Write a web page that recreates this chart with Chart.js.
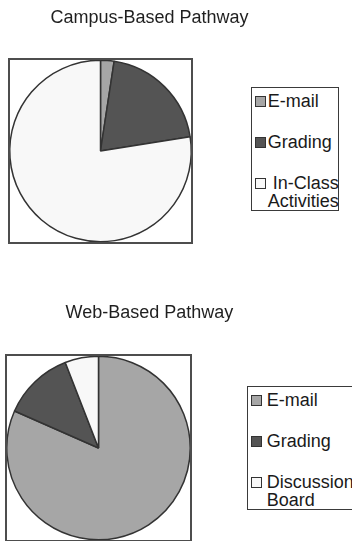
<!DOCTYPE html>
<html>
<head>
<meta charset="utf-8">
<script src="https://cdn.jsdelivr.net/npm/chart.js@4"></script>
<style>
  body {
    margin: 0;
    background: #fff;
    width: 352px;
    height: 541px;
    position: relative;
    overflow: hidden;
    font-family: 'Liberation Sans', Arial, sans-serif;
  }
  canvas { position: absolute; left: 0; }
  #campusChart { top: 0; }
  #webChart { top: 270px; }

  .chart-title {
    position: absolute;
    left: 0;
    width: 299px;
    text-align: center;
    font-size: 18px;
    line-height: 22px;
    color: #1f1f1f;
    white-space: nowrap;
  }
  #campusTitle { top: 6px; }
  #webTitle { top: 301px; }

  /* legend boxes sit to the right of each pie */
  .legend {
    position: absolute;
    box-sizing: border-box;
    border: 1.5px solid #3a3a3a;
    background: #fff;
    padding: 4px 0 0 3.2px;
    font-size: 18px;
    line-height: 18px;
    color: #1a1a1a;
    white-space: nowrap;
  }
  .legend .item { display: flex; align-items: flex-start; }
  .legend .item + .item { margin-top: 23px; }
  .legend .swatch {
    width: 11px;
    height: 11px;
    box-sizing: border-box;
    border: 1px solid #333;
    margin-top: 3.5px;
    flex: none;
  }
  #campusLegend { left: 251px; top: 87px; width: 88px; }
  #campusLegend .swatch { margin-right: 1.6px; }
  #webLegend { left: 247px; top: 386px; width: 120px; }
  #webLegend .swatch { margin-right: 4.6px; }
</style>
</head>
<body>
<canvas id="campusChart" width="300" height="250"></canvas>
<canvas id="webChart" width="300" height="271"></canvas>
<div class="chart-title" id="campusTitle">Campus-Based Pathway</div>
<div class="chart-title" id="webTitle">Web-Based Pathway</div>
<div class="legend" id="campusLegend"></div>
<div class="legend" id="webLegend"></div>

<script>
Chart.defaults.font.family = "'Liberation Sans', Arial, sans-serif";
Chart.defaults.color = '#1f1f1f';

// share of time per activity (percent)
const campusLabels = ['E-mail', 'Grading', ['In-Class', 'Activities']];
const campusShares = [2.4, 20.1, 77.5];

const webLabels = ['E-mail', 'Grading', ['Discussion', 'Board']];
const webShares = [81.6, 12.5, 5.9];

const sliceColors = ['#a6a6a6', '#545454', '#f8f8f8'];

// square frame around the plot area
const frameBox = {
    id: 'frameBox',
    afterDatasetsDraw(chart) {
        const { ctx, chartArea: a } = chart;
        ctx.save();
        ctx.strokeStyle = '#4d4d4d';
        ctx.lineWidth = 2;
        ctx.strokeRect(a.left, a.top, a.width, a.height);
        ctx.restore();
    }
};

function buildLegend(chart, legendId, wrapAlign) {
    const box = document.getElementById(legendId);
    const items = chart.options.plugins.legend.labels.generateLabels(chart);
    items.forEach(item => {
        const row = document.createElement('div');
        row.className = 'item';

        const swatch = document.createElement('span');
        swatch.className = 'swatch';
        swatch.style.background = item.fillStyle;
        row.appendChild(swatch);

        const label = document.createElement('span');
        const lines = Array.isArray(item.text) ? item.text : [item.text];
        if (lines.length > 1) label.style.textAlign = wrapAlign;
        label.style.display = 'inline-block';
        lines.forEach(line => {
            const d = document.createElement('div');
            d.textContent = line;
            label.appendChild(d);
        });
        row.appendChild(label);
        box.appendChild(row);
    });
}

function makePie(canvasId, legendId, labels, values, padding, wrapAlign) {
    const ctx = document.getElementById(canvasId).getContext('2d');
    const chart = new Chart(ctx, {
        type: 'pie',
        data: {
            labels: labels,
            datasets: [{
                data: values,
                backgroundColor: sliceColors,
                borderColor: '#333333',
                borderWidth: 1.5
            }]
        },
        options: {
            responsive: false,
            animation: false,
            devicePixelRatio: 1,
            layout: { padding: padding },
            plugins: {
                legend: { display: false },
                tooltip: { enabled: false }
            }
        },
        plugins: [frameBox]
    });
    buildLegend(chart, legendId, wrapAlign);
    return chart;
}

makePie('campusChart', 'campusLegend', campusLabels, campusShares,
    { left: 9, right: 108, top: 59, bottom: 7 }, 'right');

makePie('webChart', 'webLegend', webLabels, webShares,
    { left: 6, right: 109, top: 85, bottom: 0 }, 'left');
</script>
</body>
</html>
